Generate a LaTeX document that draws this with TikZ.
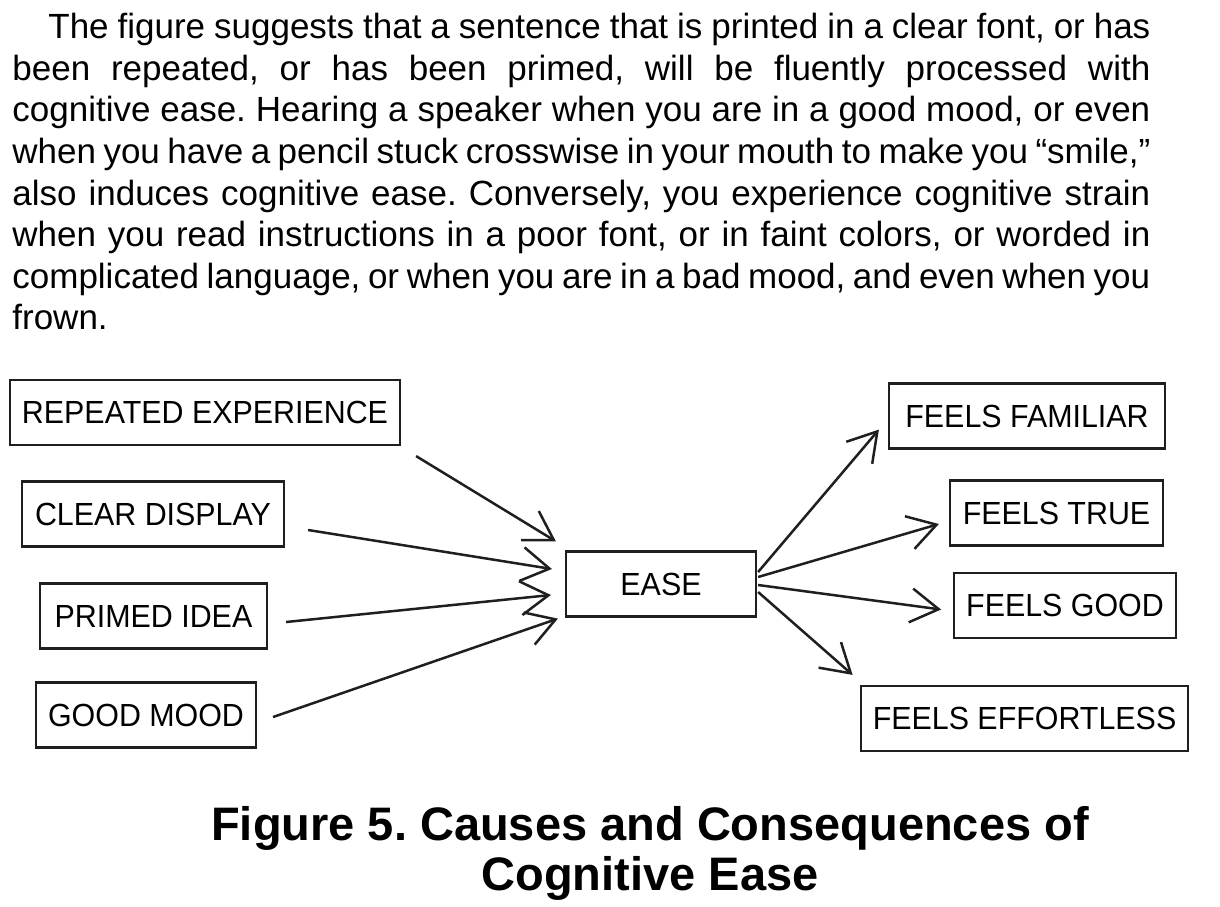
\documentclass[tikz,border=0pt]{standalone}
\usepackage{fontspec}
\setmainfont{Liberation Sans}
\newfontfamily\boxfont[FakeStretch=0.95]{Liberation Sans}
\usetikzlibrary{arrows.meta,calc}
\frenchspacing

\begin{document}
\begin{tikzpicture}[x=0.5pt, y=-0.5pt, % 以像素为单位，y 轴向下
    box/.style={draw=black!88, line width=1.1pt, minimum height=32.5pt, inner xsep=6pt,
        font=\boxfont\fontsize{16}{19}\selectfont},
    arr/.style={draw=black!88, line width=1.25pt, -{Straight Barb[length=14pt,width=17pt]}}]

    \useasboundingbox (0,0) rectangle (1220,906);

    % 1. 上方的正文段落 (两端对齐，强制断行)
    \node[anchor=north west, inner sep=0pt, text width=569pt, align=justify,
          font=\fontsize{17.5}{20.8}\selectfont] (para) at (12,13)
        {\hspace*{18pt}The figure suggests that a sentence that is printed in a clear font, or has\linebreak
         been repeated, or has been primed, will be fluently processed with\linebreak
         cognitive ease. Hearing a speaker when you are in a good mood, or even\linebreak
         when you have a pencil stuck crosswise in your mouth to make you “smile,”\linebreak
         also induces cognitive ease. Conversely, you experience cognitive strain\linebreak
         when you read instructions in a poor font, or in faint colors, or worded in\linebreak
         complicated language, or when you are in a bad mood, and even when you\linebreak
         frown.};

    % 2. 左侧的四个原因
    \node[box, minimum width=195pt] (rep) at (205,412.5) {REPEATED EXPERIENCE};
    \node[box, minimum width=131pt] (clr) at (153,514) {CLEAR DISPLAY};
    \node[box, minimum width=113.5pt] (pri) at (153.5,616) {PRIMED IDEA};
    \node[box, minimum width=108pt] (god) at (146,715) {GOOD MOOD};

    % 3. 中间的 EASE
    \node[box, minimum width=95pt] (ease) at (661,584) {EASE};

    % 4. 右侧的四个后果
    \node[box, minimum width=138pt] (fam) at (1027,416) {FEELS FAMILIAR};
    \node[box, minimum width=106.5pt] (tru) at (1056.5,513) {FEELS TRUE};
    \node[box, minimum width=108pt] (gdf) at (1065,605.5) {FEELS GOOD};
    \node[box, minimum width=162.5pt] (eff) at (1024.5,718.5) {FEELS EFFORTLESS};

    % 5. 原因 -> EASE 的箭头 (箭头尖端收在 EASE 左侧)
    \draw[arr] ($(rep.south east)+(15,10)$) -- ($(ease.north west)+(-9,-9)$);
    \draw[arr] ($(clr.east)+(23,16)$) -- ($(ease.west)+(-13,-15)$);
    \draw[arr] ($(pri.east)+(18,6)$) -- ($(ease.west)+(-14,11)$);
    \draw[arr] ($(god.east)+(16,2)$) -- ($(ease.south west)+(-7,1)$);

    % 6. EASE -> 后果 的箭头 (都从 EASE 右边出发)
    \draw[arr] ($(ease.east)+(1,-12)$) -- ($(fam.south west)+(-9,-20)$);
    \draw[arr] ($(ease.east)+(1,-7)$) -- ($(tru.west)+(-10,11)$);
    \draw[arr] ($(ease.east)+(1,1)$) -- ($(gdf.west)+(-12,4)$);
    \draw[arr] ($(ease.east)+(1,8)$) -- ($(eff.north west)+(-7,-10)$);

    % 7. 图注
    \node[anchor=north, align=center, inner sep=0pt,
          font=\bfseries\fontsize{23.5}{25}\selectfont] (cap) at (650,806)
        {Figure 5. Causes and Consequences of\\Cognitive Ease};

\end{tikzpicture}
\end{document}
